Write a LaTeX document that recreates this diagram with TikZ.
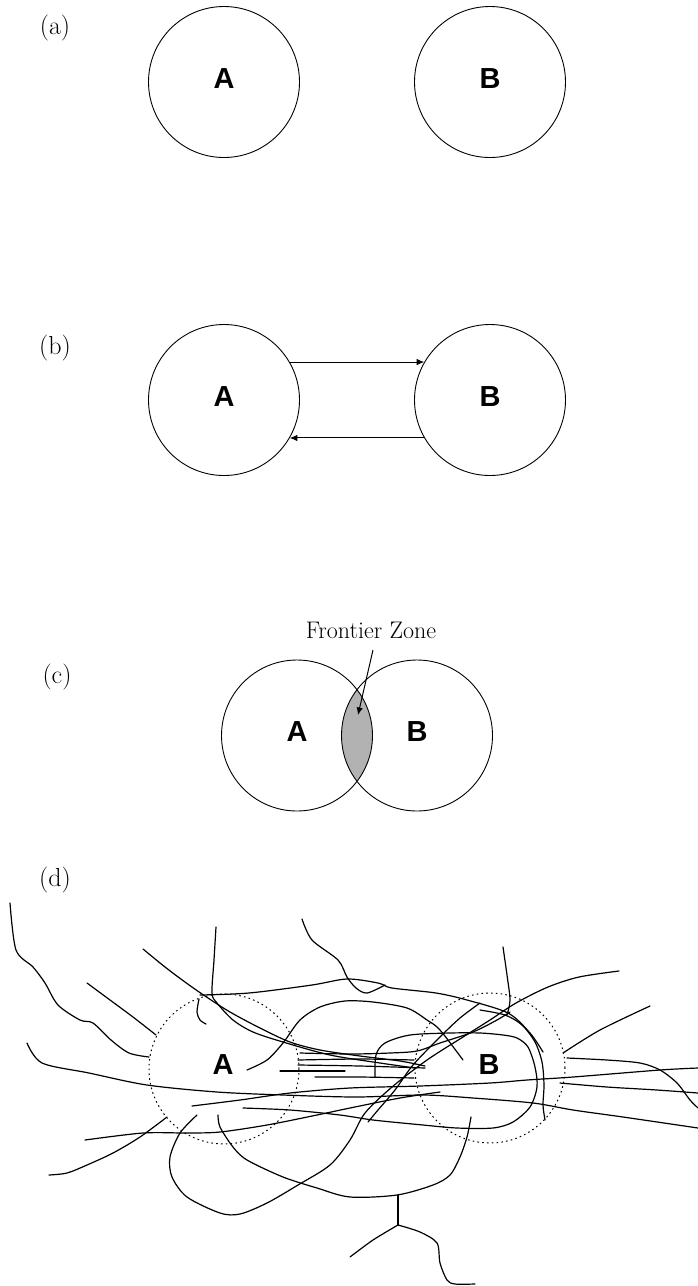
\documentclass[tikz,border=0pt]{standalone}
\usepackage{fontspec}
\newfontfamily\ABfam{Liberation Sans}
\usetikzlibrary{arrows.meta}
\tikzset{
  circ/.style={circle, draw, line width=0.9bp, minimum size=151bp, inner sep=0pt},
  dcirc/.style={circle, draw, line width=1bp, dash pattern=on 1.6bp off 3.2bp, minimum size=150bp, inner sep=0pt},
  ablabel/.style={font=\ABfam\bfseries\fontsize{29bp}{29bp}\selectfont},
  partlabel/.style={font=\fontsize{26bp}{30bp}\selectfont, inner sep=0pt},
  fzlabel/.style={font=\fontsize{24bp}{28bp}\selectfont, inner sep=0pt},
  arr/.style={line width=1bp, -{Latex[length=7.5bp,width=6.5bp]}},
  scrib/.style={line width=1.2bp, line cap=round, line join=round},
}
\begin{document}
\begin{tikzpicture}[x=1bp, y=-1bp]
\useasboundingbox[fill=white] (0,0) rectangle (698,1286);

% ---------- (a)
\node[partlabel] (la) at (55,28) {(a)};
\node[circ] (aA) at (224,82) {};
\node[circ] (aB) at (490,82) {};
\node[ablabel] (aAt) at (224,79) {A};
\node[ablabel] (aBt) at (490,79) {B};

% ---------- (b)
\node[partlabel] (lb) at (55,348) {(b)};
\node[circ] (bA) at (224,400) {};
\node[circ] (bB) at (490,400) {};
\node[ablabel] (bAt) at (224,397) {A};
\node[ablabel] (bBt) at (490,397) {B};
\draw[arr] (bA.30) -- (bB.150);
\draw[arr] (bB.210) -- (bA.330);

% ---------- (c)
\node[partlabel] (lc) at (57,677) {(c)};
\begin{scope}
  \clip (297,735.5) circle (75.5);
  \fill[black!30] (417,735.5) circle (75.5);
\end{scope}
\node[circ] (cA) at (297,735.5) {};
\node[circ] (cB) at (417,735.5) {};
\node[ablabel] (cAt) at (297,732) {A};
\node[ablabel] (cBt) at (417,732) {B};
\node[fzlabel, anchor=base] (fz) at (371,638) {Frontier Zone};
\coordinate (fzs) at (373,650);
\coordinate (fzt) at (358,715);
\draw[arr] (fzs) -- (fzt);

% ---------- (d)
\node[partlabel] (ld) at (55,880) {(d)};
\node[dcirc] (dA) at (224,1069) {};
\node[dcirc] (dB) at (490,1068) {};
\node[ablabel] (dAt) at (223,1065) {A};
\node[ablabel] (dBt) at (489,1065) {B};

\begin{scope}[scrib]
\draw plot[smooth, tension=0.5] coordinates {(10,903) (16,950) (33,967) (45,983) (58,1005) (80,1020) (93,1023) (111,1040) (129,1053) (149,1057)};
\draw plot[smooth, tension=0.5] coordinates {(87,983) (110,1000) (133,1017) (156,1035)};
\draw plot[smooth, tension=0.5] coordinates {(143,949) (165,967) (185,982) (205,996) (230,1012) (260,1028) (290,1042) (320,1050) (360,1056) (400,1061) (425,1066)};
\draw plot[smooth, tension=0.5] coordinates {(216,927) (214,960) (212,993) (217,1003) (233,1020) (253,1032) (283,1042) (330,1055) (380,1063) (415,1068)};
\draw plot[smooth, tension=0.5] coordinates {(199,999) (197,1012) (200,1020) (206,1024)};
\draw plot[smooth, tension=0.5] coordinates {(200,995) (249,993) (312,985) (347,979) (378,983) (392,988) (436,993) (467,1000) (508,1013) (530,1033) (543,1052)};
\draw plot[smooth, tension=0.5] coordinates {(302,919) (312,940) (338,960) (347,977) (356,988) (367,993) (385,985)};
\draw plot[smooth, tension=0.5] coordinates {(503,947) (507,975) (510,1000) (507,1015)};
\draw plot[smooth, tension=0.5] coordinates {(619,971) (579,977) (548,987) (516,1003) (490,1020) (463,1037) (427,1060) (392,1087) (365,1113) (350,1140) (330,1165) (298,1185) (267,1203) (240,1214) (220,1213) (187,1197) (172,1177) (170,1157) (180,1133) (197,1115)};
\draw plot[smooth, tension=0.5] coordinates {(247,1070) (267,1060) (283,1043) (300,1020) (320,1007) (345,1001) (373,1002) (407,1008) (427,1020) (440,1030) (463,1060)};
\draw plot[smooth, tension=0.5] coordinates {(27,1043) (42,1063) (89,1073) (147,1085) (217,1092) (283,1095) (356,1097) (423,1095) (473,1098) (533,1103) (573,1110) (623,1117) (698,1128)};
\draw plot[smooth, tension=0.5] coordinates {(192,1106) (240,1100) (290,1093) (350,1088) (420,1086) (490,1083) (527,1080) (573,1077) (660,1070) (698,1068)};
\draw plot[smooth, tension=0.5] coordinates {(85,1140) (143,1133) (187,1133) (220,1132) (267,1125) (317,1115) (350,1108) (400,1098) (440,1092)};
\draw plot[smooth, tension=0.5] coordinates {(567,1058) (607,1060) (640,1063) (660,1070) (677,1083) (690,1100) (698,1108)};
\draw plot[smooth, tension=0.5] coordinates {(563,1053) (600,1030) (650,1006)};
\draw plot[smooth, tension=0.5] coordinates {(560,1083) (607,1087) (657,1090) (698,1093)};
\draw plot[smooth, tension=0.5] coordinates {(218,1115) (220,1127) (233,1147) (247,1160) (283,1177) (317,1188) (350,1197) (397,1195) (433,1185) (450,1175) (460,1157) (467,1137) (471,1117)};
\draw (398,1195) -- (398,1225);
\draw plot[smooth, tension=0.5] coordinates {(398,1225) (373,1240) (350,1257)};
\draw plot[smooth, tension=0.5] coordinates {(398,1225) (420,1232) (437,1243) (440,1263) (447,1280) (455,1284) (475,1284)};
\draw plot[smooth, tension=0.5] coordinates {(375,1077) (376,1055) (385,1043) (410,1035) (450,1033) (480,1033) (503,1035) (517,1038) (528,1047) (535,1067) (537,1087) (530,1107) (513,1122) (493,1128) (457,1128) (423,1125) (373,1120) (340,1115) (290,1110) (243,1108)};
\draw plot[smooth, tension=0.5] coordinates {(480,1010) (505,1015) (522,1025) (535,1042) (542,1062) (544,1085) (543,1105) (545,1120)};
\draw plot[smooth, tension=0.5] coordinates {(300,1053) (350,1054) (390,1053) (417,1051) (440,1043) (473,1032) (497,1020) (510,1012)};
\draw plot[smooth, tension=0.5] coordinates {(480,1003) (460,1018) (440,1037) (413,1065) (395,1090) (378,1110) (368,1122)};
\draw plot[smooth, tension=0.5] coordinates {(49,1175) (67,1173) (87,1165) (113,1153) (140,1137) (167,1117)};
\draw plot[smooth, tension=0.5] coordinates {(298,1060) (360,1059) (414,1060)};
\draw plot[smooth, tension=0.5] coordinates {(298,1065) (360,1066) (425,1068)};
\draw plot[smooth, tension=0.5] coordinates {(280,1071) (345,1071)};
\draw plot[smooth, tension=0.5] coordinates {(315,1077) (360,1077) (414,1078)};
\end{scope}
\end{tikzpicture}
\end{document}
